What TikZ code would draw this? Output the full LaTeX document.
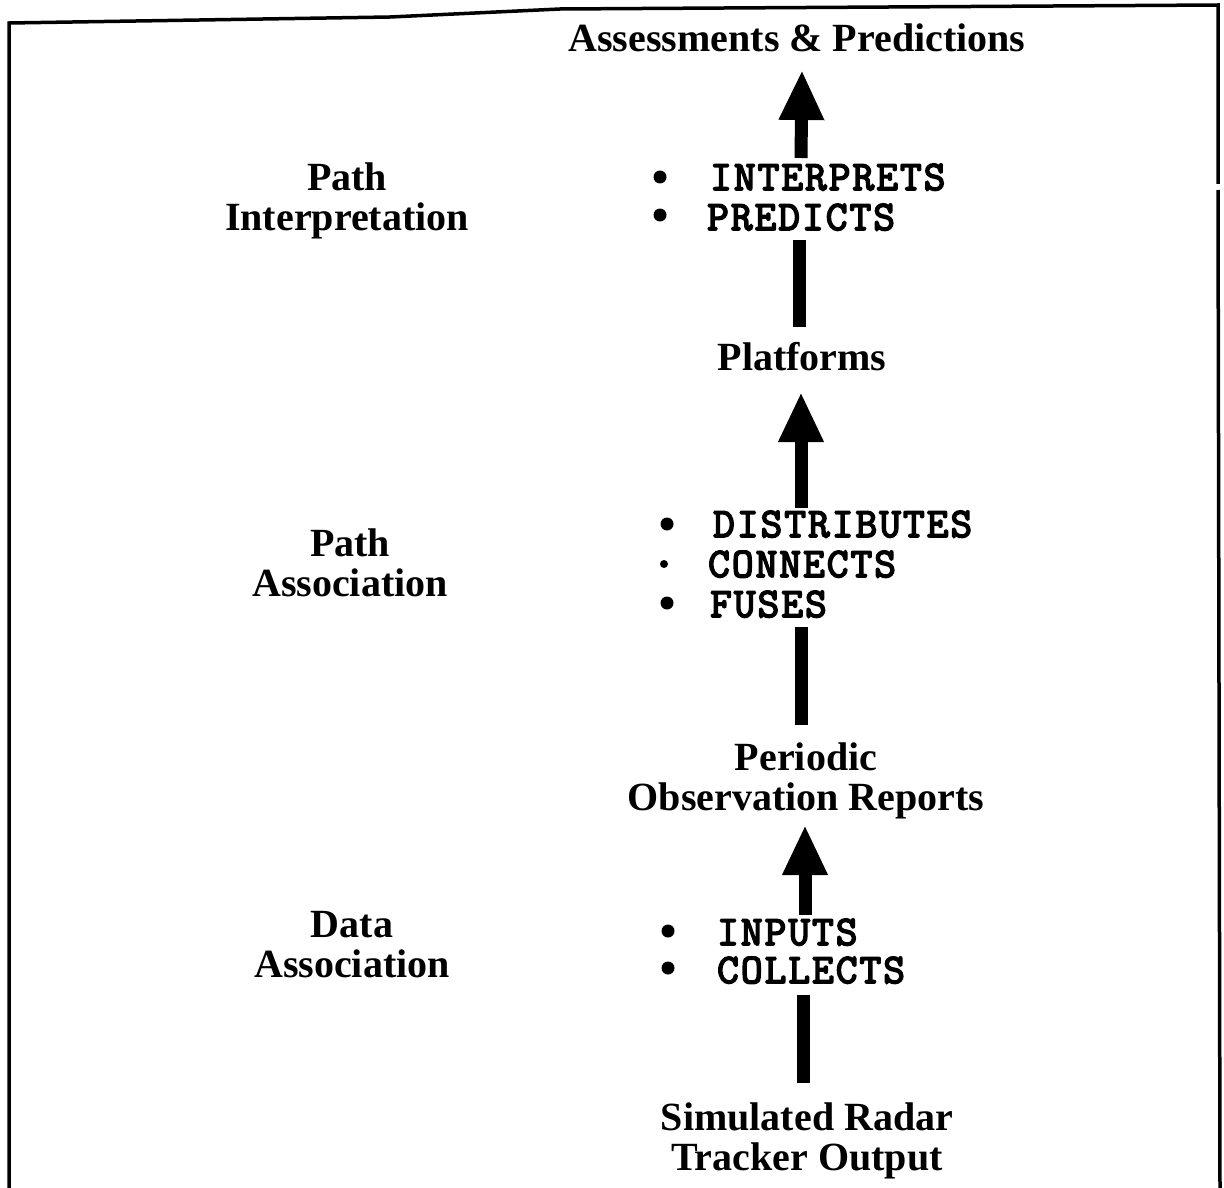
\documentclass[tikz,border=0pt]{standalone}
\usepackage{fontspec}
\setmainfont{Liberation Serif}
\newfontfamily\monof{Latin Modern Mono}[FakeBold=4, LetterSpace=5]
\usetikzlibrary{arrows.meta}

\tikzset{
  lbl/.style={font=\bfseries\fontsize{40}{40}\selectfont, inner sep=0pt, align=center},
  item/.style={font=\monof\fontsize{42}{42}\selectfont, inner sep=0pt, anchor=base west},
  dot/.style={circle, fill=black, inner sep=0pt, minimum size=13pt},
  shaft/.style={line width=13pt},
  flow/.style={line width=13pt, -{Triangle[width=42pt,length=50pt]}},
  frame/.style={line width=3.5pt, line join=miter}
}

\begin{document}
\begin{tikzpicture}[x=1pt,y=-1pt]
  \useasboundingbox (0,0) rectangle (1224,1188);

  % open frame (no bottom edge)
  \draw[frame] (9,1188) -- (9,23) -- (390,17) -- (560,9) -- (1218,5) -- (1218,184);
  \draw[frame] (1218,190) -- (1220,1188);

  % stage names on the left
  \node[lbl] (pathint)   at (347,201) {Path\\Interpretation};
  \node[lbl] (pathassoc) at (350,563) {Path\\Association};
  \node[lbl] (dataassoc) at (352,945) {Data\\Association};

  % data products along the flow
  \node[lbl] (assess)    at (797,38)  {Assessments \& Predictions};
  \node[lbl] (platforms) at (802,357) {Platforms};
  \node[lbl] (reports)   at (806,781) {Periodic\\Observation Reports};
  \node[lbl] (tracker)   at (807,1141) {Simulated Radar\\Tracker Output};

  % operations of each stage
  \node[dot] (b1) at (660,177) {};
  \node[item] (interprets) at (710,190) {INTERPRETS};
  \node[dot] (b2) at (660,215) {};
  \node[item] (predicts) at (707,230) {PREDICTS};

  \node[dot] (b3) at (667,524) {};
  \node[item] (distributes) at (713,537) {DISTRIBUTES};
  \node[dot, minimum size=8pt] (b4) at (664,564) {};
  \node[item] (connects) at (708,577) {CONNECTS};
  \node[dot] (b5) at (667,603) {};
  \node[item] (fuses) at (710,617) {FUSES};

  \node[dot] (b6) at (668,931) {};
  \node[item] (inputs) at (717,945) {INPUTS};
  \node[dot] (b7) at (668,968) {};
  \node[item] (collects) at (717,983) {COLLECTS};

  % flow connectors
  \coordinate (t3a) at (803,1083);
  \coordinate (t3b) at (803,995);
  \coordinate (h3a) at (805,915);
  \coordinate (h3b) at (805,825);
  \coordinate (t2a) at (801,725);
  \coordinate (t2b) at (801,627);
  \coordinate (h2a) at (801,508);
  \coordinate (h2b) at (801,392);
  \coordinate (t1a) at (799,327);
  \coordinate (t1b) at (799,240);
  \coordinate (h1a) at (801,158);
  \coordinate (h1b) at (802,70);

  \draw[shaft] (t3a) -- (t3b);
  \draw[flow]  (h3a) -- (h3b);
  \draw[shaft] (t2a) -- (t2b);
  \draw[flow]  (h2a) -- (h2b);
  \draw[shaft] (t1a) -- (t1b);
  \draw[flow]  (h1a) -- (h1b);
\end{tikzpicture}
\end{document}
